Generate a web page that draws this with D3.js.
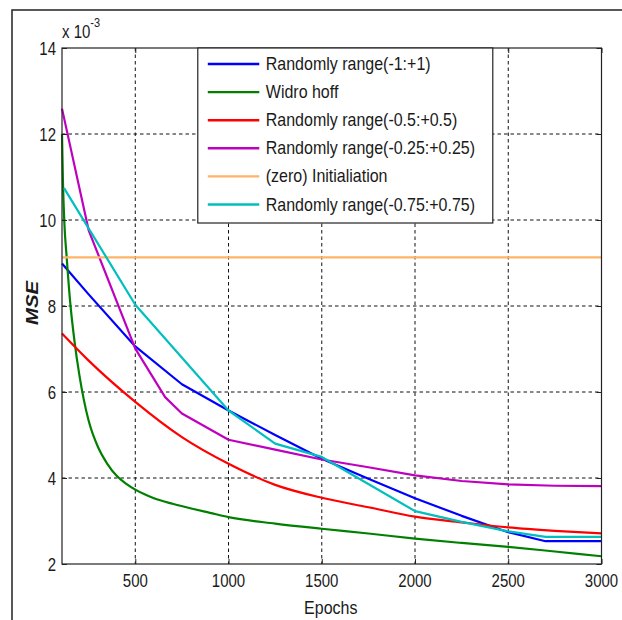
<!DOCTYPE html>
<html>
<head>
<meta charset="utf-8">
<script src="https://cdn.jsdelivr.net/npm/d3@7"></script>
<style>
  body { margin: 0; background: #fff; }
  text { font-family: Arial, "Liberation Sans", sans-serif; fill: #1a1a1a; }
</style>
</head>
<body>
<div id="wrapper"></div>
<script>
// 1. Data (MSE in units of 1e-3)
const xTicks = [500, 1000, 1500, 2000, 2500, 3000]
const yTicks = [2, 4, 6, 8, 10, 12, 14]
const xDomain = [107, 3000]
const yDomain = [2, 14]

const seriesNames = [
  "Randomly range(-1:+1)",
  "Widro hoff",
  "Randomly range(-0.5:+0.5)",
  "Randomly range(-0.25:+0.25)",
  "(zero) Initialiation",
  "Randomly range(-0.75:+0.75)",
]
const seriesColors = ["#0000ff", "#008000", "#ff0000", "#bf00bf", "#ffb366", "#00bfbf"]

const blueEpochs = [107, 250, 500, 750, 1000, 1250, 1500, 1750, 2000, 2250, 2500, 2700, 3000]
const blueMse    = [8.99, 8.27, 7.06, 6.18, 5.57, 5.0, 4.45, 3.98, 3.53, 3.12, 2.74, 2.53, 2.53]

const greenEpochs = [107, 112, 120, 132, 150, 175, 200, 225, 250, 300, 350, 400, 450, 500, 550, 600, 700, 800, 900,
                     1000, 1250, 1500, 1750, 2000, 2250, 2500, 2750, 3000]
const greenMse    = [12.0, 10.9, 9.9, 9.14, 8.13, 7.15, 6.4, 5.8, 5.33, 4.72, 4.33, 4.05, 3.87, 3.73, 3.62, 3.53, 3.40, 3.29, 3.19,
                     3.09, 2.94, 2.82, 2.71, 2.59, 2.49, 2.40, 2.29, 2.18]

const redEpochs = [107, 250, 500, 750, 1000, 1250, 1500, 1750, 2000, 2250, 2500, 2750, 3000]
const redMse    = [7.36, 6.73, 5.77, 4.95, 4.33, 3.84, 3.54, 3.32, 3.1, 2.97, 2.85, 2.77, 2.71]

const magentaEpochs = [107, 250, 500, 660, 750, 1000, 1250, 1500, 1750, 2000, 2250, 2500, 2750, 3000]
const magentaMse    = [12.59, 9.76, 7.01, 5.88, 5.5, 4.89, 4.66, 4.43, 4.25, 4.06, 3.93, 3.85, 3.82, 3.81]

const orangeEpochs = [107, 3000]
const orangeMse    = [9.13, 9.13]

const cyanEpochs = [118, 500, 1000, 1250, 1500, 2000, 2250, 2500, 2700, 3000]
const cyanMse    = [10.74, 8.03, 5.57, 4.8, 4.49, 3.23, 2.98, 2.76, 2.63, 2.63]

const seriesData = [
  [blueEpochs, blueMse, false],
  [greenEpochs, greenMse, true],
  [redEpochs, redMse, true],
  [magentaEpochs, magentaMse, false],
  [orangeEpochs, orangeMse, false],
  [cyanEpochs, cyanMse, false],
]

// 2. Dimensions
let dimensions = {
  width: 622,
  height: 620,
  margin: { top: 48, right: 20.5, bottom: 56, left: 62 },
}
dimensions.boundedWidth = dimensions.width - dimensions.margin.left - dimensions.margin.right
dimensions.boundedHeight = dimensions.height - dimensions.margin.top - dimensions.margin.bottom

const textStretch = 1.2

// 3. Canvas
const wrapper = d3.select("#wrapper")
  .append("svg")
  .attr("width", dimensions.width)
  .attr("height", dimensions.height)

// outer figure frame
wrapper.append("rect")
  .attr("x", 12).attr("y", 10)
  .attr("width", 700).attr("height", 700)
  .attr("fill", "none")
  .attr("stroke", "#222")
  .attr("stroke-width", 1.5)

const bounds = wrapper.append("g")
  .attr("transform", `translate(${dimensions.margin.left},${dimensions.margin.top})`)

// 4. Scales
const xScale = d3.scaleLinear().domain(xDomain).range([0, dimensions.boundedWidth])
const yScale = d3.scaleLinear().domain(yDomain).range([dimensions.boundedHeight, 0])

// 5. Grid
bounds.append("rect")
  .attr("width", dimensions.boundedWidth)
  .attr("height", dimensions.boundedHeight)
  .attr("fill", "#fff")

bounds.selectAll(".xgrid")
  .data(xTicks.filter(d => d < xDomain[1]))
  .join("line")
    .attr("class", "xgrid")
    .attr("x1", d => xScale(d)).attr("x2", d => xScale(d))
    .attr("y1", 0).attr("y2", dimensions.boundedHeight)
    .attr("stroke", "#111").attr("stroke-dasharray", "3.5,3")

bounds.selectAll(".ygrid")
  .data(yTicks.filter(d => d > yDomain[0] && d < yDomain[1]))
  .join("line")
    .attr("class", "ygrid")
    .attr("y1", d => yScale(d)).attr("y2", d => yScale(d))
    .attr("x1", 0).attr("x2", dimensions.boundedWidth)
    .attr("stroke", "#111").attr("stroke-dasharray", "3.5,3")

// 6. Lines
seriesData.forEach(([xs, ys, smooth], i) => {
  const pts = xs.map((x, j) => [x, ys[j]])
  const lineGenerator = d3.line()
    .x(d => xScale(d[0]))
    .y(d => yScale(d[1]))
    .curve(smooth ? d3.curveMonotoneX : d3.curveLinear)
  bounds.append("path")
    .datum(pts)
    .attr("d", lineGenerator)
    .attr("fill", "none")
    .attr("stroke", seriesColors[i])
    .attr("stroke-width", 2.2)
    .attr("stroke-linejoin", "round")
})

// 7. Axes (ticks pointing inward on all four sides)
const axisBottom = bounds.append("g")
  .attr("transform", `translate(0,${dimensions.boundedHeight})`)
  .call(d3.axisBottom(xScale).tickValues(xTicks).tickSizeInner(-5).tickSizeOuter(0).tickFormat(""))
const axisTop = bounds.append("g")
  .call(d3.axisTop(xScale).tickValues(xTicks).tickSizeInner(-5).tickSizeOuter(0).tickFormat(""))
const axisLeft = bounds.append("g")
  .call(d3.axisLeft(yScale).tickValues(yTicks).tickSizeInner(-5).tickSizeOuter(0).tickFormat(""))
const axisRight = bounds.append("g")
  .attr("transform", `translate(${dimensions.boundedWidth},0)`)
  .call(d3.axisRight(yScale).tickValues(yTicks).tickSizeInner(-5).tickSizeOuter(0).tickFormat(""))
bounds.selectAll(".domain").remove()
bounds.selectAll(".tick line").attr("stroke", "#222")

bounds.append("rect")
  .attr("width", dimensions.boundedWidth)
  .attr("height", dimensions.boundedHeight)
  .attr("fill", "none")
  .attr("stroke", "#222")
  .attr("stroke-width", 1.2)

// tick labels, stretched vertically like the original figure
bounds.selectAll(".xlabel")
  .data(xTicks)
  .join("text")
    .attr("class", "xlabel")
    .attr("transform", d => `translate(${xScale(d)},${dimensions.boundedHeight + 23}) scale(1,${textStretch})`)
    .attr("text-anchor", "middle")
    .style("font-size", "15px")
    .text(d => d)

bounds.selectAll(".ylabel")
  .data(yTicks)
  .join("text")
    .attr("class", "ylabel")
    .attr("transform", d => `translate(-6,${yScale(d) + 6.5}) scale(1,${textStretch})`)
    .attr("text-anchor", "end")
    .style("font-size", "15px")
    .text(d => d)

// exponent label
const expLabel = bounds.append("text")
  .attr("transform", `translate(0,-10) scale(1,${textStretch})`)
  .style("font-size", "15px")
expLabel.append("tspan").text("x 10")
expLabel.append("tspan").attr("dy", -9).style("font-size", "11px").text("-3")

// axis titles
wrapper.append("text")
  .attr("transform", `translate(${dimensions.margin.left + dimensions.boundedWidth / 2 - 1},${dimensions.height - 6}) scale(1,${textStretch})`)
  .attr("text-anchor", "middle")
  .style("font-size", "16px")
  .text("Epochs")

wrapper.append("text")
  .attr("transform", `translate(38,303) scale(1,${textStretch}) rotate(-90)`)
  .attr("text-anchor", "middle")
  .style("font-size", "17px")
  .style("font-weight", "bold")
  .style("font-style", "italic")
  .text("MSE")

// 8. Legend
const legend = bounds.append("g")
  .attr("transform", `translate(${xScale(xTicks[0]) + 62.5},0)`)

legend.append("rect")
  .attr("width", 295)
  .attr("height", 175)
  .attr("fill", "#fff")
  .attr("stroke", "#222")
  .attr("stroke-width", 1.2)

const legendItems = legend.selectAll(".legend-item")
  .data(seriesNames)
  .join("g")
    .attr("class", "legend-item")
    .attr("transform", (d, i) => `translate(0,${16 + i * 28.1})`)

legendItems.append("line")
  .attr("x1", 10).attr("x2", 61.5)
  .attr("stroke", (d, i) => seriesColors[i])
  .attr("stroke-width", 2.4)

legendItems.append("text")
  .attr("transform", `translate(68,6) scale(1,${textStretch})`)
  .style("font-size", "16px")
  .text(d => d)
</script>
</body>
</html>
